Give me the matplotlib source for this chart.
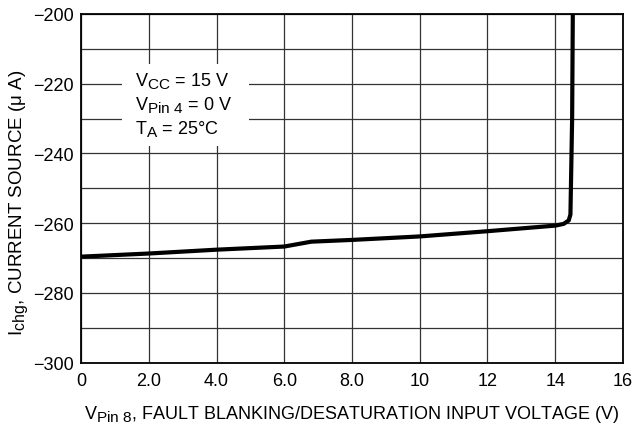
import matplotlib
matplotlib.use("Agg")
import matplotlib.pyplot as plt
import matplotlib._mathtext as mathtext_mod
from matplotlib import font_manager
from matplotlib.patches import Rectangle

# curve
v_pin8 = [0.0, 2.0, 4.0, 6.0, 6.4, 6.8, 8.0, 10.0, 12.0, 14.0, 14.25, 14.4, 14.45, 14.5, 14.52]
i_chg = [-269.6, -268.7, -267.6, -266.7, -266.0, -265.3, -264.8, -263.8, -262.3, -260.7,
         -260.2, -259.2, -257.5, -230.0, -200.0]

x_ticks = [0, 2, 4, 6, 8, 10, 12, 14, 16]
x_labels = ["0", "2.0", "4.0", "6.0", "8.0", "10", "12", "14", "16"]
y_ticks = [-300, -280, -260, -240, -220, -200]
y_labels = ["\u2212300", "\u2212280", "\u2212260", "\u2212240", "\u2212220", "\u2212200"]

# datasheet subscripts are almost full size
mathtext_mod.SHRINK_FACTOR = 0.85

names = {f.name for f in font_manager.fontManager.ttflist}
fam = "Liberation Sans Narrow" if "Liberation Sans Narrow" in names else "Liberation Sans"
plt.rcParams["font.family"] = [fam, "DejaVu Sans"]
plt.rcParams["mathtext.fontset"] = "custom"
plt.rcParams["mathtext.rm"] = fam
plt.rcParams["mathtext.it"] = fam

fig = plt.figure(figsize=(6.35, 4.35), dpi=100)
ax = fig.add_axes([0.1276, 0.164, 0.8534, 0.8016])

ax.set_xlim(0, 16)
ax.set_ylim(-300, -200)
ax.set_xticks(x_ticks)
ax.set_xticklabels(x_labels)
ax.set_yticks(y_ticks)
ax.set_yticklabels(y_labels)
ax.set_yticks(range(-290, -200, 10), minor=True)
ax.tick_params(which="both", length=0, labelsize=13)
ax.tick_params(axis="x", pad=7)
ax.tick_params(axis="y", pad=5)
ax.grid(True, which="both", color="#333333", lw=0.9)
ax.set_axisbelow(True)
for s in ax.spines.values():
    s.set_linewidth(1.3)

ax.plot(v_pin8, i_chg, color="black", lw=3, solid_joinstyle="round", zorder=3)

# white box behind the conditions
ax.add_patch(Rectangle((1.2, -237.8), 3.76, 23.5, facecolor="white", edgecolor="none", zorder=2))
ax.text(1.6, -220.3, r"V$_{\mathrm{CC}}$ = 15 V", fontsize=13, zorder=4)
ax.text(1.6, -227.2, r"V$_{\mathrm{Pin\ 4}}$ = 0 V", fontsize=13, zorder=4)
ax.text(1.6, -234.1, r"T$_{\mathrm{A}}$ = 25°C", fontsize=13, zorder=4)

ax.set_xlabel(r"V$_{\mathrm{Pin\ 8}}$, FAULT BLANKING/DESATURATION INPUT VOLTAGE (V)", fontsize=13, labelpad=10)
ax.set_ylabel(r"I$_{\mathrm{chg}}$, CURRENT SOURCE ($\mu$ A)", fontsize=13.5)
ax.yaxis.set_label_coords(-0.094, 0.46)

fig.savefig("out.png", dpi=100)
